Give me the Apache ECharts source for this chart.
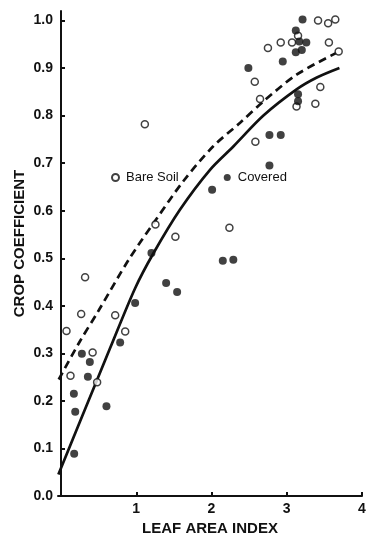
<!DOCTYPE html>
<html>
<head>
<meta charset="utf-8">
<title>Crop coefficient vs leaf area index</title>
<script src="https://cdn.jsdelivr.net/npm/echarts@6.0.0/dist/echarts.min.js"></script>
<style>
  html, body { margin: 0; padding: 0; background: #fff; }
  #chart { width: 369px; height: 536px; }
</style>
</head>
<body>
<div id="chart"></div>
<script>
// open circles
const bareLai = [0.32, 0.268, 0.72, 0.073, 0.853, 0.42, 0.126, 0.48, 1.114, 1.255, 1.52, 2.238,
  3.416, 3.55, 3.645, 3.15, 2.92, 3.07, 3.56, 2.75, 3.69, 2.575, 3.446, 2.645, 3.13, 3.38, 2.583];
const bareKc = [0.46, 0.383, 0.38, 0.347, 0.346, 0.302, 0.253, 0.239, 0.782, 0.571, 0.545, 0.564,
  1.0, 0.994, 1.002, 0.968, 0.954, 0.954, 0.954, 0.942, 0.935, 0.871, 0.86, 0.835, 0.819, 0.825, 0.745];

// filled circles
const coveredLai = [0.277, 0.383, 0.357, 0.171, 0.189, 0.604, 0.175, 0.786, 0.985, 2.008, 1.202,
  2.15, 2.29, 1.397, 1.543, 3.21, 3.12, 3.167, 3.26, 3.12, 3.2, 2.947, 2.49, 3.15, 3.15, 2.77, 2.92, 2.77];
const coveredKc = [0.299, 0.282, 0.251, 0.215, 0.177, 0.189, 0.089, 0.323, 0.406, 0.644, 0.511,
  0.495, 0.497, 0.448, 0.429, 1.002, 0.979, 0.956, 0.954, 0.933, 0.938, 0.914, 0.9, 0.845, 0.83, 0.759, 0.759, 0.695];

// fitted curves
const bareFitLai = [-0.03, 0.25, 0.5, 0.9, 1.27, 1.63, 2.02, 2.38, 2.69, 3.13, 3.66];
const bareFitKc = [0.245, 0.325, 0.39, 0.497, 0.583, 0.663, 0.735, 0.785, 0.83, 0.886, 0.932];
const coveredFitLai = [-0.035, 0.3, 0.65, 0.985, 1.23, 1.58, 1.98, 2.29, 2.69, 3.13, 3.4, 3.7];
const coveredFitKc = [0.045, 0.175, 0.31, 0.437, 0.511, 0.602, 0.686, 0.735, 0.8, 0.855, 0.88, 0.9];

const xTicks = [1, 2, 3, 4];
const yTicks = [0, 0.1, 0.2, 0.3, 0.4, 0.5, 0.6, 0.7, 0.8, 0.9, 1.0];

function pairs(xs, ys) {
  return xs.map((x, i) => [x, ys[i]]);
}

let font = "'Liberation Sans', Arial, sans-serif";
let chart = echarts.init(document.getElementById('chart'));

chart.setOption({
  animation: false,
  backgroundColor: '#fff',
  textStyle: {fontFamily: font},
  grid: {left: 58, right: 7, top: 11, bottom: 40, outerBoundsMode: 'none'},
  legend: {
    data: ['Bare Soil', 'Covered'],
    left: 106,
    top: 166,
    itemWidth: 11,
    itemHeight: 7,
    itemGap: 45,
    textStyle: {fontSize: 13, color: '#111', fontFamily: font}
  },
  xAxis: {
    type: 'value',
    min: -0.04,
    max: 4,
    name: 'LEAF AREA INDEX',
    nameLocation: 'middle',
    nameGap: 25,
    nameMoveOverlap: false,
    nameTextStyle: {fontSize: 15, fontWeight: 'bold', color: '#111'},
    splitLine: {show: false},
    axisLine: {lineStyle: {color: '#111', width: 2}},
    axisTick: {inside: true, length: 4, customValues: xTicks, lineStyle: {color: '#111', width: 2}},
    axisLabel: {customValues: xTicks, fontSize: 14, fontWeight: 'bold', color: '#111', margin: 6}
  },
  yAxis: {
    type: 'value',
    min: 0,
    max: 1.02,
    name: 'CROP COEFFICIENT',
    nameLocation: 'middle',
    nameGap: 31,
    nameMoveOverlap: false,
    nameTextStyle: {fontSize: 15, fontWeight: 'bold', color: '#111', padding: [0, 0, 0, 20]},
    splitLine: {show: false},
    axisLine: {show: true, lineStyle: {color: '#111', width: 2}},
    axisTick: {show: true, inside: true, length: 4, customValues: yTicks, lineStyle: {color: '#111', width: 2}},
    axisLabel: {
      customValues: yTicks,
      fontSize: 14,
      fontWeight: 'bold',
      color: '#111',
      margin: 5,
      formatter: v => v.toFixed(1)
    }
  },
  series: [
    {
      name: 'Bare Soil fit',
      type: 'line',
      data: pairs(bareFitLai, bareFitKc),
      smooth: 0.3,
      showSymbol: false,
      lineStyle: {color: '#111', width: 2.7, type: [8, 5]},
      z: 2
    },
    {
      name: 'Covered fit',
      type: 'line',
      data: pairs(coveredFitLai, coveredFitKc),
      smooth: 0.3,
      showSymbol: false,
      lineStyle: {color: '#111', width: 2.7},
      z: 2
    },
    {
      name: 'Bare Soil',
      type: 'scatter',
      data: pairs(bareLai, bareKc),
      symbol: 'circle',
      symbolSize: 7,
      itemStyle: {color: '#fff', borderColor: '#111', borderWidth: 1.5},
      z: 3
    },
    {
      name: 'Covered',
      type: 'scatter',
      data: pairs(coveredLai, coveredKc),
      symbol: 'circle',
      symbolSize: 8,
      itemStyle: {color: '#111'},
      z: 4
    }
  ]
});
</script>
</body>
</html>
